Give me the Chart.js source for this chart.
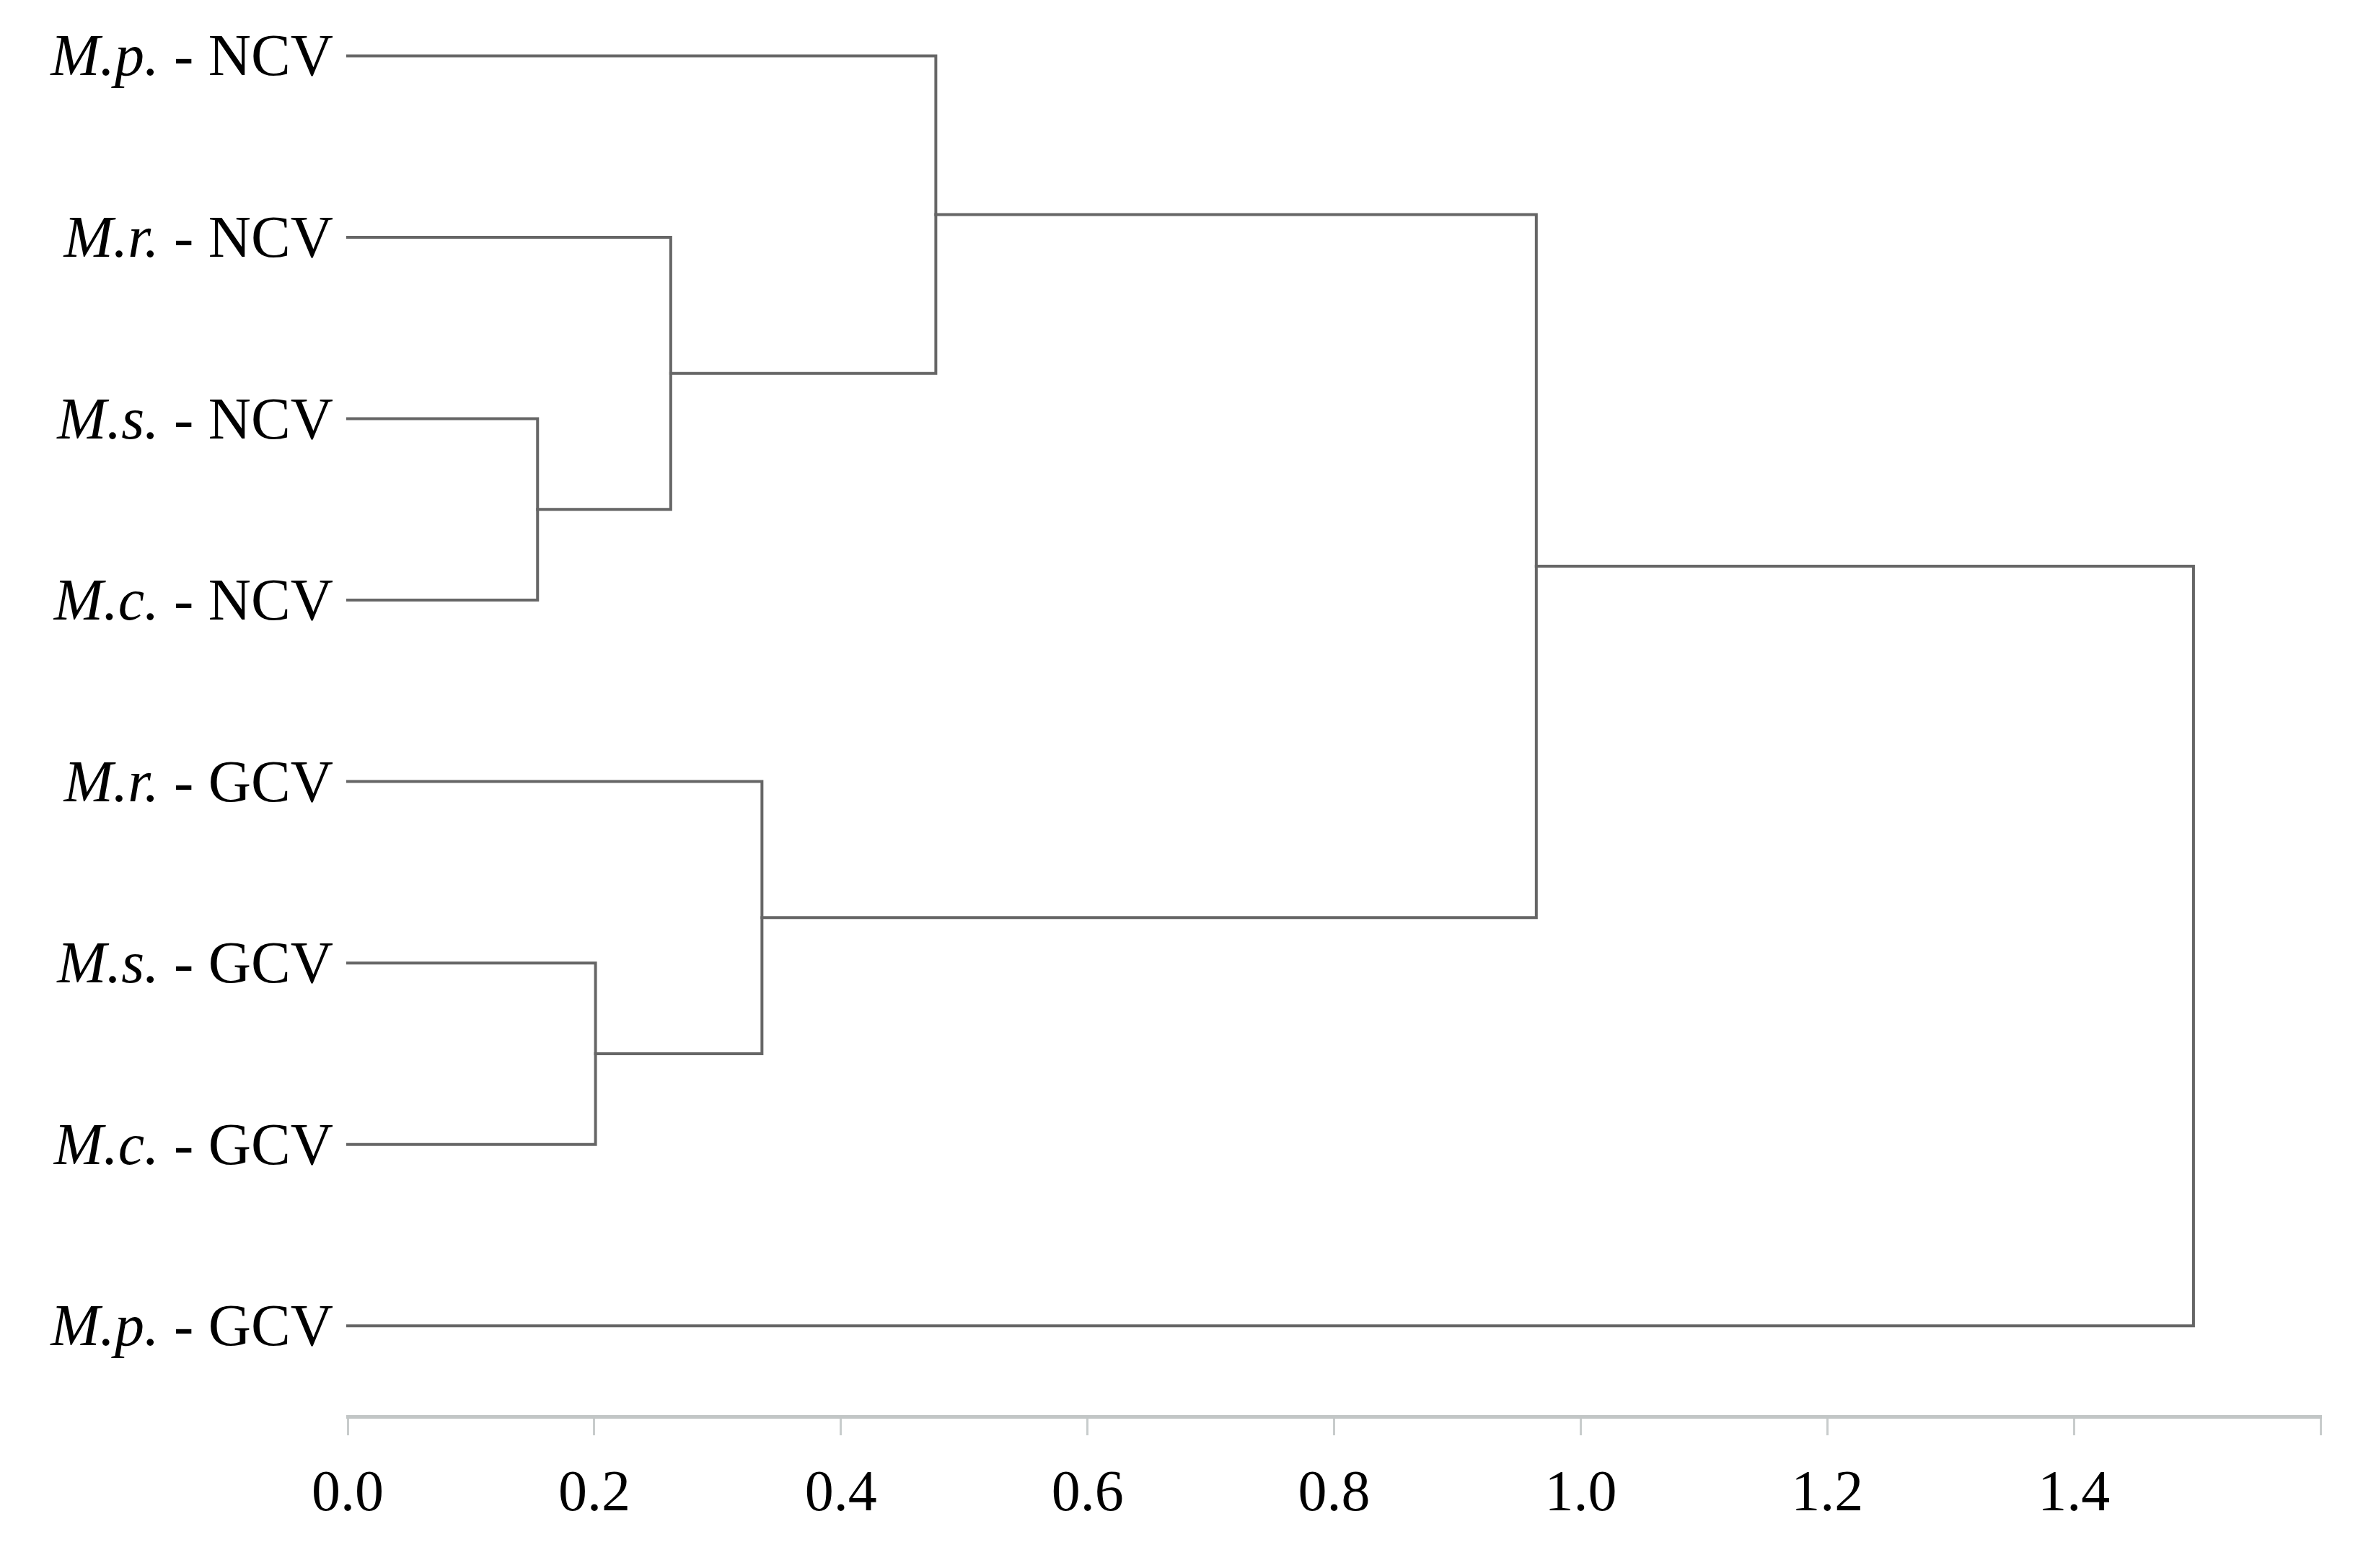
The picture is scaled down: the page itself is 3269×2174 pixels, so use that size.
<!DOCTYPE html>
<html>
<head>
<meta charset="utf-8">
<script src="https://cdn.jsdelivr.net/npm/chart.js@4/dist/chart.umd.min.js"></script>
<style>
  html, body { margin: 0; padding: 0; background: #ffffff; }
  canvas { display: block; }
</style>
</head>
<body>
<canvas id="c" width="3269" height="2174"></canvas>
<script>
// Leaves (top to bottom)
const species = ['M.p.', 'M.r.', 'M.s.', 'M.c.', 'M.r.', 'M.s.', 'M.c.', 'M.p.'];
const groups  = ['NCV',  'NCV',  'NCV',  'NCV',  'GCV',  'GCV',  'GCV',  'GCV'];
// Linkage: node ids 0..7 are leaves, merges create nodes 8, 9, ...
const mergeA      = [2, 5, 1, 4, 0, 12, 13];
const mergeB      = [3, 6, 8, 9, 10, 11, 7];
const mergeHeight = [0.154, 0.201, 0.262, 0.336, 0.477, 0.964, 1.497];
// Axis ticks
const xTickValues = [0, 0.2, 0.4, 0.6, 0.8, 1.0, 1.2, 1.4, 1.6];
const xTickLabels = ['0.0', '0.2', '0.4', '0.6', '0.8', '1.0', '1.2', '1.4', ''];

// Build node positions
const nodeX = [], nodeY = [];
for (let i = 0; i < species.length; i++) { nodeX.push(0); nodeY.push(i); }
const datasets = [];
for (let k = 0; k < mergeA.length; k++) {
  const a = mergeA[k], b = mergeB[k], h = mergeHeight[k];
  datasets.push({
    data: [
      {x: nodeX[a], y: nodeY[a]},
      {x: h, y: nodeY[a]},
      {x: h, y: nodeY[b]},
      {x: nodeX[b], y: nodeY[b]}
    ],
    showLine: true,
    borderColor: '#666666',
    borderWidth: 4,
    pointRadius: 0,
    fill: false,
    tension: 0,
    clip: false,
    borderJoinStyle: 'miter',
    borderCapStyle: 'square'
  });
  nodeX.push(h);
  nodeY.push((nodeY[a] + nodeY[b]) / 2);
}

const leafLabelPlugin = {
  id: 'leafLabels',
  afterDraw(chart) {
    const ctx = chart.ctx;
    const ys = chart.scales.y;
    const xRight = chart.chartArea.left - 20;
    const size = 82;
    ctx.save();
    ctx.fillStyle = '#000000';
    ctx.textBaseline = 'alphabetic';
    ctx.textAlign = 'left';
    for (let i = 0; i < species.length; i++) {
      const y = ys.getPixelForValue(i) + 27;
      const g = ' - ' + groups[i];
      ctx.font = size + 'px "Liberation Serif", "Times New Roman", serif';
      const wg = ctx.measureText(g).width;
      ctx.font = 'italic ' + size + 'px "Liberation Serif", "Times New Roman", serif';
      const ws = ctx.measureText(species[i]).width;
      ctx.fillText(species[i], xRight - wg - ws, y);
      ctx.font = size + 'px "Liberation Serif", "Times New Roman", serif';
      ctx.fillText(g, xRight - wg, y);
    }
    ctx.restore();
  }
};

new Chart(document.getElementById('c'), {
  type: 'scatter',
  data: { datasets },
  options: {
    responsive: false,
    devicePixelRatio: 1,
    animation: false,
    layout: { padding: { top: 2, left: 482, right: 52, bottom: 0 } },
    plugins: { legend: { display: false }, tooltip: { enabled: false } },
    scales: {
      x: {
        type: 'linear',
        position: 'bottom',
        min: 0,
        max: 1.6,
        afterBuildTicks(scale) { scale.ticks = xTickValues.map(v => ({ value: v })); },
        afterFit(scale) { scale.height = 210; },
        ticks: {
          autoSkip: false,
          maxRotation: 0,
          padding: 35,
          color: '#000000',
          font: { family: '"Liberation Serif", "Times New Roman", serif', size: 80 },
          callback: (v, i) => xTickLabels[i]
        },
        grid: {
          drawOnChartArea: false,
          drawTicks: true,
          tickLength: 26,
          color: '#c8cccc',
          lineWidth: 3
        },
        border: { display: true, color: '#c2c6c6', width: 5 }
      },
      y: {
        type: 'linear',
        display: false,
        reverse: true,
        min: -0.3,
        max: 7.5
      }
    }
  },
  plugins: [leafLabelPlugin]
});
</script>
</body>
</html>
